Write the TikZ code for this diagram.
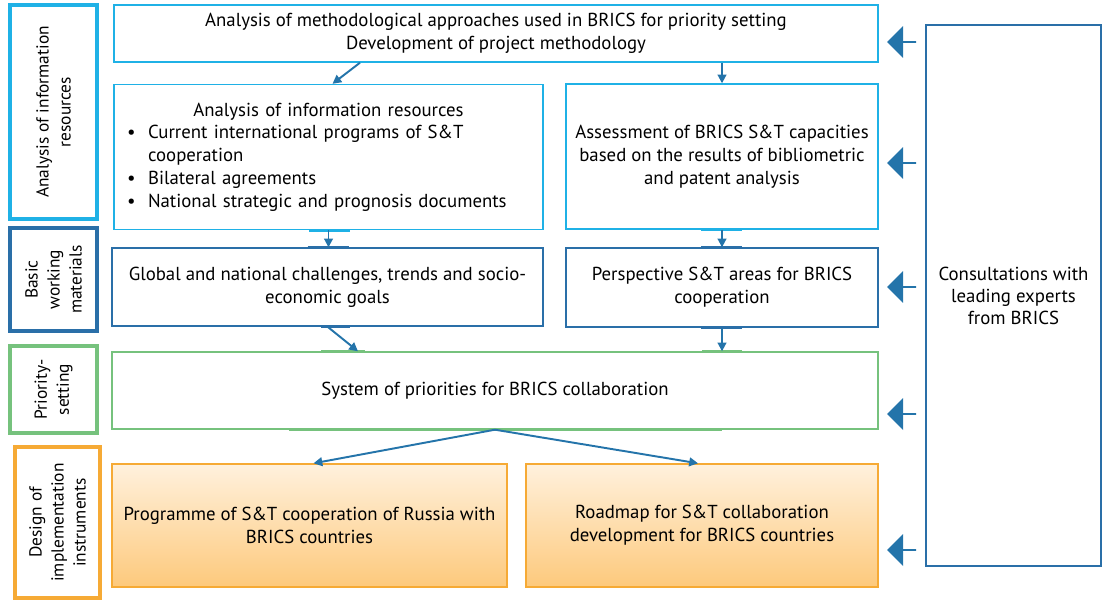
\documentclass[tikz,border=0pt]{standalone}
\usepackage{fontspec}
\setmainfont{PT Sans}
\usetikzlibrary{arrows.meta,calc,shapes.arrows}
\definecolor{cyanline}{HTML}{1FB1E6}
\definecolor{blueline}{HTML}{2A6FA8}
\definecolor{greenline}{HTML}{76C27D}
\definecolor{orangeline}{HTML}{F6AA35}
\definecolor{orangetop}{HTML}{FFF1DD}
\definecolor{orangebot}{HTML}{FDC97C}
\definecolor{arrowblue}{HTML}{2474AA}
\newcommand\bul{\noindent\hangindent=0.42cm\hangafter=1\makebox[0.42cm][l]{\textbullet}}
\begin{document}
\begin{tikzpicture}[x=0.02cm,y=-0.02cm,
  font=\fontsize{10.7}{13}\selectfont,
  box/.style={draw,line width=0.8pt,align=center,inner sep=0pt},
  side/.style={draw,line width=2.4pt,rotate=90,align=center,inner sep=0pt,font=\fontsize{9.9}{12.5}\selectfont},
  link/.style={arrowblue,line width=1.1pt,-{Triangle[length=5pt,width=5pt]}},
  tab/.style={line width=1.6pt},
  push/.style={single arrow,fill=arrowblue,shape border rotate=180,inner sep=0pt,
    minimum width=0.64cm,single arrow head extend=0.14cm,minimum height=0.58cm}]
  \useasboundingbox (0,0) rectangle (1104,601);

  \node[side,draw=cyanline,minimum width=4.28cm,minimum height=1.74cm] (stage1) at (53.5,112) {Analysis of information\\resources};
  \node[side,draw=blueline,minimum width=2.06cm,minimum height=1.74cm] (stage2) at (53.5,279.5) {Basic\\working\\materials};
  \node[side,draw=greenline,minimum width=1.74cm,minimum height=1.74cm] (stage3) at (53.5,389.5) {Priority-\\setting};
  \node[side,draw=orangeline,minimum width=3.02cm,minimum height=1.7cm] (stage4) at (57.5,522.5) {Design of\\implementation\\instruments};

  \node[box,draw=cyanline,minimum width=15.28cm,minimum height=1.14cm] (method) at (496,33.5) {Analysis of methodological approaches used in BRICS for priority setting\\Development of project methodology};
  \node[box,draw=cyanline,minimum width=8.58cm,minimum height=2.9cm,text width=8.06cm,align=left] (info) at (328.5,157)
    {{\centering Analysis of information resources\par}
     \bul Current international programs of S\&T\newline cooperation\par
     \bul Bilateral agreements\par
     \bul National strategic and prognosis documents\par};
  \node[box,draw=cyanline,minimum width=6.24cm,minimum height=2.9cm] (assess) at (722,156.5) {Assessment of BRICS S\&T capacities\\based on the results of bibliometric\\and patent analysis};
  \node[box,draw=blueline,minimum width=8.62cm,minimum height=1.56cm] (global) at (327.5,287) {Global and national challenges, trends and socio-\\economic goals};
  \node[box,draw=blueline,minimum width=6.24cm,minimum height=1.58cm] (persp) at (722,287.5) {Perspective S\&T areas for BRICS\\cooperation};
  \node[box,draw=greenline,minimum width=15.32cm,minimum height=1.54cm] (prio) at (495,390.5) {System of priorities for BRICS collaboration};
  \node[box,draw=orangeline,top color=orangetop,bottom color=orangebot,minimum width=7.9cm,minimum height=2.46cm] (prog) at (309.5,525.5) {Programme of S\&T cooperation of Russia with\\BRICS countries};
  \node[box,draw=orangeline,top color=orangetop,bottom color=orangebot,minimum width=7.04cm,minimum height=2.46cm] (road) at (702,525.5) {Roadmap for S\&T collaboration\\development for BRICS countries};
  \node[box,draw=blueline,line width=1.1pt,minimum width=3.5cm,minimum height=10.82cm,font=\fontsize{10.7}{12.5}\selectfont] (experts) at (1013.5,295.5) {Consultations with\\leading experts\\from BRICS};

  \foreach \y [count=\i] in {42,163,287,414,550}
    \node[push] (push\i) at (902,\y) {};

  \draw[tab,cyanline] ($(info.south)+(-20,0)$) -- ($(info.south)+(21,0)$);
  \draw[tab,cyanline] ($(assess.south)+(-21,0)$) -- ($(assess.south)+(20,0)$);
  \draw[tab,blueline] ($(global.north)+(-20,0)$) -- ($(global.north)+(21,0)$);
  \draw[tab,blueline] ($(persp.north)+(-21,0)$) -- ($(persp.north)+(20,0)$);
  \draw[tab,blueline] ($(global.south)+(-7,0)$) -- ($(global.south)+(22,0)$);
  \draw[tab,blueline] ($(persp.south)+(-21,0)$) -- ($(persp.south)+(20,0)$);
  \draw[tab,greenline] ($(prio.north)+(-174,0)$) -- ($(prio.north)+(-130,0)$);
  \draw[tab,greenline] ($(prio.north)+(207,0)$) -- ($(prio.north)+(247,0)$);
  \draw[tab,greenline] ($(prio.south)+(-206,0)$) -- ($(prio.south)+(227,0)$);

  \draw[link] ($(method.south)+(-136,0)$) -- ($(info.north)+(4,0)$);
  \draw[link] (method.south -| assess.north) -- (assess.north);
  \draw[link] (info.south) -- (info.south |- global.north);
  \draw[link] (assess.south) -- (assess.south |- persp.north);
  \draw[link] (global.south) -- ($(prio.north)+(-137,0)$);
  \draw[link] (persp.south) -- (persp.south |- prio.north);
  \draw[link] (prio.south) -- ($(prog.north)+(4,0)$);
  \draw[link] (prio.south) -- ($(road.north)+(-4,0)$);
\end{tikzpicture}
\end{document}
